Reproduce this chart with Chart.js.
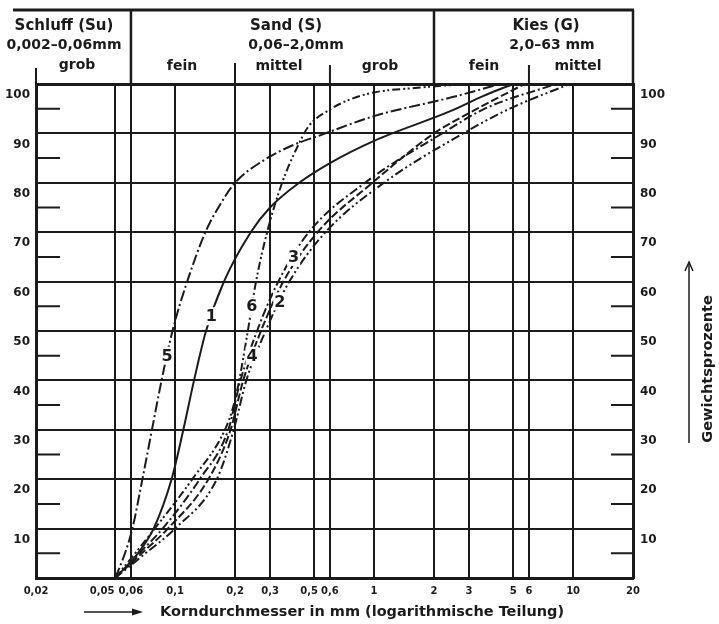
<!DOCTYPE html>
<html>
<head>
<meta charset="utf-8">
<script src="https://cdn.jsdelivr.net/npm/chart.js@4/dist/chart.umd.min.js"></script>
<style>
  html, body { margin: 0; padding: 0; background: #fff; }
  #wrap { width: 719px; height: 624px; position: relative; }
</style>
</head>
<body>
<div id="wrap"><canvas id="c" width="719" height="624"></canvas></div>
<script>
// Grain-size axis (mm, log) and passing percentage axis
const sizeTicks = [0.02, 0.05, 0.06, 0.1, 0.2, 0.3, 0.5, 0.6, 1, 2, 3, 5, 6, 10, 20];
const pctTicks = [0, 10, 20, 30, 40, 50, 60, 70, 80, 90, 100];
const minorPct = [5, 15, 25, 35, 45, 55, 65, 75, 85, 95];

// Grading curves: grain size (mm) and percentage passing
const curve1Size = [0.05, 0.065, 0.078, 0.096, 0.110, 0.1245, 0.143, 0.176, 0.24, 0.3, 0.42, 0.6, 1.0, 2.45, 3.5, 5.0];
const curve1Pct  = [0, 5, 10, 20, 30, 40, 50, 60, 70, 75, 80, 84, 88.5, 94.6, 97.5, 100];

const curve2Size = [0.05, 0.071, 0.1, 0.162, 0.197, 0.228, 0.285, 0.375, 0.57, 1.12, 2.8, 4.8, 9.6];
const curve2Pct  = [0, 5, 10, 20, 30, 40, 50, 60, 70, 80, 90, 95, 100];

const curve3Size = [0.05, 0.066, 0.0865, 0.133, 0.185, 0.213, 0.258, 0.33, 0.47, 0.9, 2.2, 3.6, 8.2];
const curve3Pct  = [0, 5, 10, 20, 30, 40, 50, 60, 70, 80, 90, 95, 100];

const curve4Size = [0.05, 0.068, 0.092, 0.147, 0.19, 0.22, 0.27, 0.35, 0.52, 0.98, 2.0, 3.3, 5.7];
const curve4Pct  = [0, 5, 10, 20, 30, 40, 50, 60, 70, 80, 90, 95, 100];

const curve5Size = [0.05, 0.056, 0.061, 0.0685, 0.0765, 0.0855, 0.097, 0.115, 0.142, 0.165, 0.2, 0.28, 0.39, 0.535, 1.0, 2.45, 4.3];
const curve5Pct  = [0, 5, 10, 20, 30, 40, 50, 60, 70, 75, 80, 84.6, 87.6, 89.6, 93.5, 97.3, 100];

const curve6Size = [0.05, 0.063, 0.079, 0.122, 0.178, 0.197, 0.21, 0.232, 0.255, 0.29, 0.345, 0.42, 0.47, 0.61, 0.76, 1.0, 1.6, 2.3, 3.0];
const curve6Pct  = [0, 5, 10, 20, 30, 35, 40, 50, 60, 70, 80, 88, 91.5, 95, 96.9, 98.3, 99.2, 99.7, 100];

// Curve numbers and the percentage level where each number sits on its curve
const curveNames = ['1', '2', '3', '4', '5', '6'];
const curveLabelPct = [53, 56, 65, 45, 45, 55];

const INK = '#1b1b1b';
const FONT = "'DejaVu Sans', 'Liberation Sans', sans-serif";

const curves = [
  { size: curve1Size, pct: curve1Pct, dash: [] },
  { size: curve2Size, pct: curve2Pct, dash: [9, 3, 2, 3, 2, 3] },
  { size: curve3Size, pct: curve3Pct, dash: [9, 3, 2, 3] },
  { size: curve4Size, pct: curve4Pct, dash: [8, 3] },
  { size: curve5Size, pct: curve5Pct, dash: [11, 3, 2, 3] },
  { size: curve6Size, pct: curve6Pct, dash: [8, 3, 2, 2.5, 2, 3] }
];

const datasets = curves.map((c, i) => ({
  label: curveNames[i],
  data: c.size.map((s, k) => ({ x: s, y: c.pct[k] })),
  borderColor: INK,
  borderWidth: 2,
  borderDash: c.dash,
  pointRadius: 0,
  cubicInterpolationMode: 'monotone',
  fill: false
}));

function fmtSize(v) { return String(v).replace('.', ','); }

// size on a curve at a given percentage (log interpolation along the curve)
function sizeAtPct(c, p) {
  for (let k = 1; k < c.pct.length; k++) {
    if (p <= c.pct[k]) {
      const t = (p - c.pct[k - 1]) / (c.pct[k] - c.pct[k - 1]);
      const a = Math.log10(c.size[k - 1]), b = Math.log10(c.size[k]);
      return Math.pow(10, a + t * (b - a));
    }
  }
  return c.size[c.size.length - 1];
}

const decorations = {
  id: 'decorations',
  afterDraw(chart) {
    const ctx = chart.ctx;
    const xs = chart.scales.x, ys = chart.scales.y;
    const area = chart.chartArea;
    ctx.save();
    ctx.strokeStyle = INK;
    ctx.fillStyle = INK;
    ctx.lineCap = 'butt';

    // minor ticks on both sides
    ctx.lineWidth = 2;
    minorPct.forEach(v => {
      const y = ys.getPixelForValue(v);
      ctx.beginPath();
      ctx.moveTo(area.left, y); ctx.lineTo(area.left + 24, y);
      ctx.moveTo(area.right - 22, y); ctx.lineTo(area.right, y);
      ctx.stroke();
    });

    // grain-size tick labels; the two crowded pairs are set slightly left
    ctx.font = 'bold 10px ' + FONT;
    ctx.textAlign = 'center';
    ctx.textBaseline = 'middle';
    sizeTicks.forEach(v => {
      const dx = v === 0.05 ? -13 : (v === 0.5 ? -5 : 0);
      ctx.fillText(fmtSize(v), xs.getPixelForValue(v) + dx, area.bottom + 13);
    });

    // header table
    const top = 10;
    ctx.lineWidth = 3;
    ctx.beginPath();
    ctx.moveTo(13, top); ctx.lineTo(area.right + 1, top);
    ctx.stroke();
    ctx.lineWidth = 2.5;
    [0.06, 2, 20].forEach(v => {
      const x = xs.getPixelForValue(v);
      ctx.beginPath(); ctx.moveTo(x, top); ctx.lineTo(x, area.top); ctx.stroke();
    });
    ctx.lineWidth = 2;
    [[0.02, 68], [0.2, 63], [0.6, 65], [6, 65]].forEach(([v, y0]) => {
      const x = xs.getPixelForValue(v);
      ctx.beginPath(); ctx.moveTo(x, y0); ctx.lineTo(x, area.top); ctx.stroke();
    });

    ctx.textAlign = 'center';
    ctx.textBaseline = 'middle';
    ctx.font = 'bold 15px ' + FONT;
    ctx.fillText('Schluff (Su)', 64, 26);
    ctx.fillText('Sand (S)', 286, 26);
    ctx.fillText('Kies (G)', 546, 26);
    ctx.font = 'bold 14px ' + FONT;
    ctx.fillText('0,002\u20130,06mm', 64, 45);
    ctx.fillText('0,06\u20132,0mm', 296, 45);
    ctx.fillText('2,0\u201363 mm', 552, 45);
    ctx.fillText('grob', 77, 65);
    ctx.fillText('fein', 182, 66);
    ctx.fillText('mittel', 279, 66);
    ctx.fillText('grob', 380, 66);
    ctx.fillText('fein', 484, 66);
    ctx.fillText('mittel', 578, 66);

    // axis title at the bottom with arrow
    ctx.lineWidth = 1.5;
    ctx.beginPath(); ctx.moveTo(84, 612); ctx.lineTo(136, 612); ctx.stroke();
    ctx.beginPath(); ctx.moveTo(143, 612); ctx.lineTo(132, 608.5); ctx.lineTo(132, 615.5); ctx.closePath(); ctx.fill();
    ctx.textAlign = 'left';
    ctx.font = 'bold 14.5px ' + FONT;
    ctx.fillText('Korndurchmesser in mm (logarithmische Teilung)', 160, 612);

    // right-hand title with arrow
    ctx.lineWidth = 1.5;
    ctx.beginPath(); ctx.moveTo(689, 443); ctx.lineTo(689, 263); ctx.stroke();
    ctx.beginPath(); ctx.moveTo(685, 271); ctx.lineTo(689, 262); ctx.lineTo(693, 271); ctx.stroke();
    ctx.save();
    ctx.translate(708, 369);
    ctx.rotate(-Math.PI / 2);
    ctx.textAlign = 'center';
    ctx.font = 'bold 14.5px ' + FONT;
    ctx.fillText('Gewichtsprozente', 0, 0);
    ctx.restore();

    ctx.restore();
  },
  afterDatasetsDraw(chart) {
    const ctx = chart.ctx;
    const xs = chart.scales.x, ys = chart.scales.y;
    ctx.save();
    ctx.font = 'bold 16px ' + FONT;
    ctx.textAlign = 'center';
    ctx.textBaseline = 'middle';
    curves.forEach((c, i) => {
      const p = curveLabelPct[i];
      const px = xs.getPixelForValue(sizeAtPct(c, p));
      const py = ys.getPixelForValue(p);
      const w = ctx.measureText(curveNames[i]).width + 2;
      ctx.fillStyle = '#fff';
      ctx.fillRect(px - w / 2, py - 9, w, 18);
      ctx.fillStyle = INK;
      ctx.fillText(curveNames[i], px, py + 1);
    });
    ctx.restore();
  }
};

new Chart(document.getElementById('c'), {
  type: 'line',
  data: { datasets },
  options: {
    responsive: false,
    animation: false,
    devicePixelRatio: 1,
    layout: { padding: { top: 84, left: 0, right: 0, bottom: 0 } },
    plugins: { legend: { display: false }, tooltip: { enabled: false } },
    scales: {
      x: {
        type: 'logarithmic',
        min: 0.02,
        max: 20,
        afterBuildTicks: s => { s.ticks = sizeTicks.map(v => ({ value: v })); },
        afterFit: s => { s.height = 46; },
        ticks: { display: false, autoSkip: false, maxRotation: 0 },
        grid: { color: INK, lineWidth: 2, drawTicks: false },
        border: { color: INK, width: 3 }
      },
      y: {
        position: 'left',
        min: 0, max: 100,
        afterBuildTicks: s => { s.ticks = pctTicks.map(v => ({ value: v })); },
        afterFit: s => { s.width = 36; },
        ticks: {
          padding: 6, labelOffset: 11,
          color: INK, font: { family: FONT, size: 12, weight: 'bold' },
          callback: v => (v === 0 ? '' : String(v))
        },
        grid: {
          color: INK, drawTicks: false,
          lineWidth: c => (c.tick && c.tick.value === 100 ? 3 : 2)
        },
        border: { color: INK, width: 3 }
      },
      y2: {
        position: 'right',
        min: 0, max: 100,
        afterBuildTicks: s => { s.ticks = pctTicks.map(v => ({ value: v })); },
        afterFit: s => { s.width = 86; },
        ticks: {
          padding: 7, labelOffset: 11,
          color: INK, font: { family: FONT, size: 12, weight: 'bold' },
          callback: v => (v === 0 ? '' : String(v))
        },
        grid: { drawOnChartArea: false, drawTicks: false },
        border: { color: INK, width: 3 }
      }
    }
  },
  plugins: [decorations]
});
</script>
</body>
</html>
